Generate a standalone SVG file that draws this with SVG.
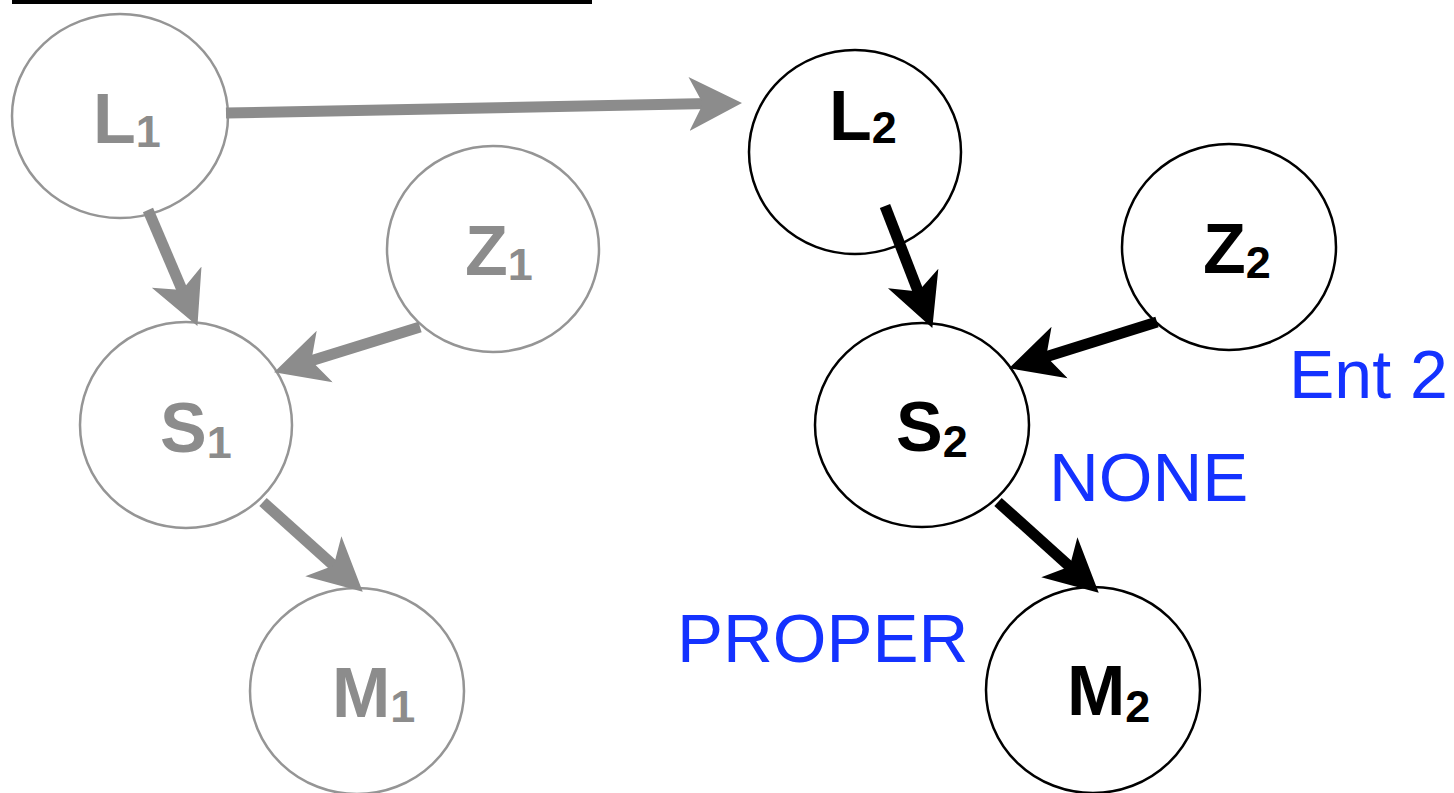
<svg xmlns="http://www.w3.org/2000/svg" width="1454" height="793" viewBox="0 0 1454 793">
<style>
.gn{fill:#fff;stroke:#959595;stroke-width:2.5}
.bn{fill:#fff;stroke:#000;stroke-width:2.5}
.gt{font-family:"Liberation Sans",Arial,sans-serif;font-weight:bold;font-size:70px;fill:#8c8c8c}
.bt{font-family:"Liberation Sans",Arial,sans-serif;font-weight:bold;font-size:70px;fill:#000}
.sub{font-size:45px}
.lbl{font-family:"Liberation Sans",Arial,sans-serif;font-size:69px;fill:#1432ff}
.ge{stroke:#8c8c8c;stroke-width:11;fill:none;marker-end:url(#ga)}
.be{stroke:#000;stroke-width:11;fill:none;marker-end:url(#ba)}
</style>
<defs>
<marker id="ga" markerUnits="userSpaceOnUse" markerWidth="60" markerHeight="60" viewBox="0 0 60 60" refX="20" refY="30" orient="auto">
<path d="M0,3 L53,30 L0,57 L14,30 Z" fill="#8c8c8c"/>
</marker>
<marker id="ba" markerUnits="userSpaceOnUse" markerWidth="60" markerHeight="60" viewBox="0 0 60 60" refX="20" refY="30" orient="auto">
<path d="M0,3 L53,30 L0,57 L14,30 Z" fill="#000"/>
</marker>
</defs>
<rect x="12" y="0" width="580" height="4" fill="#000"/>
<g id="L1"><ellipse class="gn" cx="120" cy="116" rx="108" ry="102"/><text class="gt" x="93" y="143">L<tspan class="sub" dy="4">1</tspan></text></g>
<g id="Z1"><ellipse class="gn" cx="493" cy="249" rx="106" ry="103"/><text class="gt" x="465" y="275">Z<tspan class="sub" dy="5">1</tspan></text></g>
<g id="S1"><ellipse class="gn" cx="186" cy="425" rx="106" ry="103"/><text class="gt" x="160" y="452">S<tspan class="sub" dy="6">1</tspan></text></g>
<g id="M1"><ellipse class="gn" cx="357" cy="691" rx="107" ry="103"/><text class="gt" x="332" y="717">M<tspan class="sub" dy="5">1</tspan></text></g>
<g id="L2"><ellipse class="bn" cx="855" cy="152" rx="106" ry="102"/><text class="bt" x="829" y="140">L<tspan class="sub" dy="3">2</tspan></text></g>
<g id="Z2"><ellipse class="bn" cx="1229" cy="247" rx="107" ry="103"/><text class="bt" x="1203" y="273">Z<tspan class="sub" dy="5">2</tspan></text></g>
<g id="S2"><ellipse class="bn" cx="922" cy="425" rx="107" ry="102"/><text class="bt" x="896" y="451">S<tspan class="sub" dy="6">2</tspan></text></g>
<g id="M2"><ellipse class="bn" cx="1093" cy="690" rx="107" ry="103"/><text class="bt" x="1067" y="715">M<tspan class="sub" dy="7">2</tspan></text></g>
<g id="labels">
<text class="lbl" x="1289" y="398" style="font-size:68px">Ent 2</text>
<text class="lbl" x="1049" y="501">NONE</text>
<text class="lbl" x="677" y="662">PROPER</text>
</g>
<g id="edges">
<line class="ge" x1="226" y1="113" x2="709" y2="103.6"/>
<line class="ge" x1="148" y1="210" x2="184.5" y2="295.6"/>
<line class="ge" x1="420" y1="327" x2="305.6" y2="362.5"/>
<line class="ge" x1="263" y1="502" x2="338.2" y2="569.6"/>
<line class="be" x1="885" y1="206" x2="920.4" y2="297.2"/>
<line class="be" x1="1157" y1="322" x2="1040.5" y2="358.4"/>
<line class="be" x1="998" y1="502" x2="1074.2" y2="570.6"/>
</g>
</svg>
